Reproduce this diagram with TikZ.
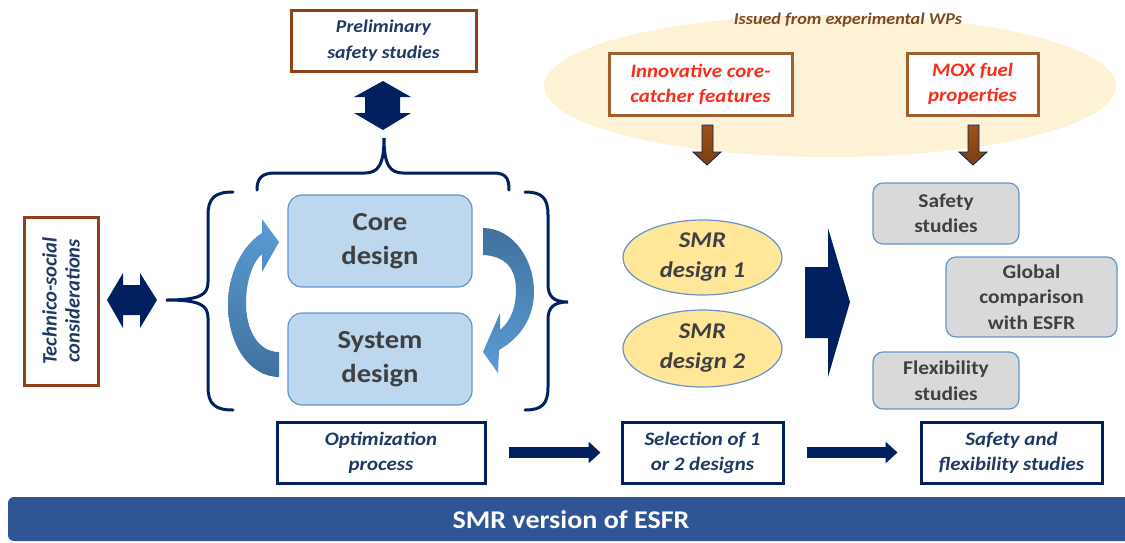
\documentclass[tikz,border=0pt]{standalone}
\usepackage{fontspec}
\setmainfont{Carlito}[FakeStretch=1.1]
\newfontfamily\techfont{Carlito}
\usetikzlibrary{arrows.meta,shapes.geometric}
\definecolor{navy}{RGB}{0,32,96}
\definecolor{navytext}{RGB}{31,56,100}
\definecolor{brownA}{RGB}{140,65,25}
\definecolor{brownB}{RGB}{160,95,45}
\definecolor{redtext}{RGB}{250,45,25}
\definecolor{issuedtext}{RGB}{125,75,35}
\definecolor{pale}{RGB}{253,242,214}
\definecolor{boxblue}{RGB}{189,215,238}
\definecolor{boxedge}{RGB}{100,150,200}
\definecolor{graybg}{RGB}{217,217,217}
\definecolor{txtgray}{RGB}{64,64,64}
\definecolor{arrowlight}{RGB}{91,155,213}
\definecolor{arrowdark}{RGB}{65,113,156}
\definecolor{bannerblue}{RGB}{47,85,151}
\definecolor{yellowbg}{RGB}{255,230,153}
\definecolor{brownfill}{RGB}{155,82,25}
\definecolor{brownfilldark}{RGB}{125,62,20}
\tikzset{
  brownbox/.style={draw=brownA, line width=3pt, fill=white, inner sep=0pt, align=center},
  innovbox/.style={draw=brownB, line width=3pt, fill=white, inner sep=0pt, align=center,
    text=redtext, font={\fontsize{19}{25}\selectfont\bfseries\itshape}},
  navybox/.style={draw=navy, line width=3pt, fill=white, inner sep=0pt, align=center,
    text=navytext, font={\fontsize{19}{25}\selectfont\bfseries\itshape}},
  bluebox/.style={draw=boxedge, line width=1.2pt, fill=boxblue, rounded corners=14pt,
    inner sep=0pt, align=center, text=txtgray, font={\fontsize{26}{34}\selectfont\bfseries},
    minimum width=184pt, minimum height=92pt},
  graybox/.style={draw=boxedge, line width=1.2pt, fill=graybg, rounded corners=10pt,
    inner sep=0pt, align=center, text=txtgray, font={\fontsize{19.5}{25.5}\selectfont\bfseries}},
  smrell/.style={ellipse, draw=boxedge, line width=1.2pt, fill=yellowbg, inner sep=0pt,
    align=center, text=txtgray, font={\fontsize{22.5}{30}\selectfont\bfseries\itshape},
    minimum width=159pt},
  bracestyle/.style={draw=navy, line width=3pt, line cap=round},
  blockarrow/.style={fill=navy},
  flowarrow/.style={draw=navy, line width=11pt, -{Triangle[length=12pt,width=21pt]}},
  brownarrow/.style={top color=brownfill, bottom color=brownfilldark, draw=navy, line width=0.8pt},
}
\begin{document}
\begin{tikzpicture}[x=1pt,y=-1pt]
\useasboundingbox (0,0) rectangle (1125,542);

% pale ellipse with experimental WPs
\fill[pale] (830,86) ellipse [x radius=286, y radius=71];
\node[text=issuedtext, font={\fontsize{16.5}{20}\selectfont\bfseries\itshape}] (issued) at (848,20) {Issued from experimental WPs};
\node[innovbox, minimum width=183pt, minimum height=62pt] (innov) at (700.5,84) {Innovative core-\\catcher features};
\node[innovbox, minimum width=131pt, minimum height=62pt] (mox) at (972.5,84) {MOX fuel\\properties};

% brown block arrows
\path[brownarrow] (702,125) -- (713,125) -- (713,152) -- (721,152) -- (707,165) -- (693,152) -- (702,152) -- cycle;
\path[brownarrow] (968,125) -- (979,125) -- (979,152) -- (987,152) -- (973,165) -- (959,152) -- (968,152) -- cycle;

% preliminary safety studies
\node[brownbox, minimum width=185pt, minimum height=61pt, text=navytext,
  font={\fontsize{18}{26}\selectfont\bfseries\itshape}] (prelim) at (383.5,40.5) {Preliminary\\safety studies};
\path[blockarrow] (383,81) -- (411,97) -- (400,97) -- (400,113) -- (411,113) -- (383,130)
  -- (354,113) -- (365,113) -- (365,97) -- (354,97) -- cycle;

% top brace
\draw[bracestyle] (257,190) .. controls (257,178) and (262,173) .. (275,173) -- (365,173)
  .. controls (378,173) and (384,165) .. (384,138) .. controls (384,165) and (390,173) .. (403,173)
  -- (493,173) .. controls (506,173) and (509,178) .. (509,190);

% left brace
\draw[bracestyle] (233,192) .. controls (215,192) and (208,198) .. (208,215) -- (208,282)
  .. controls (208,295) and (200,300) .. (166,300) .. controls (200,300) and (208,305) .. (208,318)
  -- (208,387) .. controls (208,404) and (215,410) .. (233,410);
% right brace
\draw[bracestyle] (525,192) .. controls (542,192) and (548,198) .. (548,215) -- (548,284)
  .. controls (548,296) and (553,302) .. (568,302) .. controls (553,302) and (548,308) .. (548,320)
  -- (548,387) .. controls (548,404) and (542,410) .. (525,410);

% technico-social
\node[brownbox, rotate=90, minimum width=168pt, minimum height=74pt, text=navytext,
  font={\techfont\fontsize{20.5}{23}\selectfont\bfseries\itshape}] (techno) at (61,301) {Technico-social\\considerations};
\path[blockarrow] (107,300) -- (123,273) -- (123,285) -- (140,285) -- (140,273) -- (157,300)
  -- (140,328) -- (140,315) -- (123,315) -- (123,328) -- cycle;

% core / system design
\node[bluebox] (core) at (380,241) {Core\\design};
\node[bluebox] (system) at (380,359) {System\\design};

% curved arrows
\shade[top color=arrowlight, bottom color=arrowdark]
  (279,377) .. controls (250,377) and (228,345) .. (228,305) .. controls (228,272) and (243,245) .. (262,233)
  -- (262,219) -- (279,242) -- (262,272) -- (262,254)
  .. controls (252,263) and (246,282) .. (246,303) .. controls (246,330) and (258,352) .. (279,352) -- cycle;
\shade[top color=arrowdark, bottom color=arrowlight]
  (483,228) .. controls (512,228) and (534,258) .. (534,292) .. controls (534,318) and (520,338) .. (499,350)
  -- (498,373) -- (483,352) -- (500,313) -- (500,330)
  .. controls (512,320) and (516,305) .. (516,290) .. controls (516,268) and (505,256) .. (483,255) -- cycle;

% SMR designs
\node[smrell, minimum height=75pt] (smr1) at (702.5,257.5) {SMR\\design 1};
\node[smrell, minimum height=77pt] (smr2) at (702.5,348.5) {SMR\\design 2};

% big arrow
\path[blockarrow] (805,267) -- (828,267) -- (828,228) -- (850,302) -- (828,377) -- (828,338) -- (805,338) -- cycle;

% gray study boxes
\node[graybox, minimum width=146pt, minimum height=61pt] (safety) at (946,213.5) {Safety\\studies};
\node[graybox, minimum width=171pt, minimum height=80pt] (global) at (1031.5,297) {Global\\comparison\\with ESFR};
\node[graybox, minimum width=146pt, minimum height=57pt] (flex) at (946,380.5) {Flexibility\\studies};

% bottom process row
\node[navybox, minimum width=208pt, minimum height=61pt] (opt) at (381,452.5) {Optimization\\process};
\node[navybox, minimum width=161pt, minimum height=61pt] (sel) at (702.5,452.5) {Selection of 1\\or 2 designs};
\node[navybox, minimum width=181pt, minimum height=61pt] (sfs) at (1011.5,452.5) {Safety and\\flexibility studies};
\draw[flowarrow, shorten <=22pt, shorten >=20pt] (opt.east) -- (sel.west);
\draw[flowarrow, shorten <=22pt, shorten >=22pt] (sel.east) -- (sfs.west);

% banner
\fill[bannerblue, rounded corners=6pt] (8,497) rectangle (1145,541);
\node[text=white, font={\fontsize{25.5}{30}\selectfont\bfseries}] (banner) at (571,520) {SMR version of ESFR};
\end{tikzpicture}
\end{document}
